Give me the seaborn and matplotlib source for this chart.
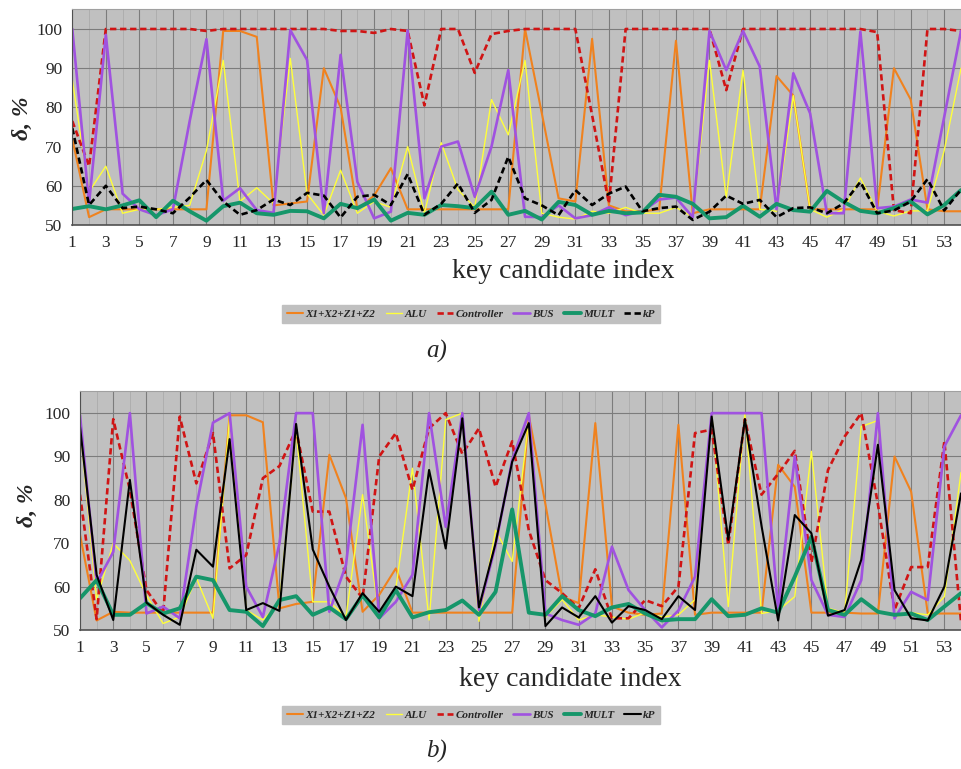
import numpy as np
import pandas as pd
import matplotlib
matplotlib.use("Agg")
import matplotlib.pyplot as plt
import seaborn as sns
from matplotlib.lines import Line2D

# ---------------- data ----------------
idx = list(range(1, 55))
series_names = ["X1+X2+Z1+Z2", "ALU", "Controller", "BUS", "MULT", "kP"]

# panel a
a_x = [72, 52, 54, 54, 54, 54, 54, 54, 54, 99.5, 99.5, 98, 55, 55.5, 56, 90, 80, 54, 57.5, 64.5,
       54, 54, 54, 54, 54, 54, 54, 100, 78.5, 56.8, 56, 97.5, 55, 53.5, 53.5, 54, 97, 53, 54, 54,
       54, 54, 88, 83, 54, 54, 54, 54, 54, 90, 82, 54, 53.5, 53.5]
a_alu = [87, 58.5, 65, 53, 54, 54, 54.5, 55, 69, 92, 56, 59.5, 55.5, 92.5, 58, 52.5, 64, 53, 56, 54.5,
         70, 53, 71, 59, 54.5, 82, 73, 92, 53, 52, 51.5, 53.5, 53, 54.5, 53, 53, 54.5, 52, 92, 57,
         89.5, 54, 53.5, 83, 54, 52, 54, 62, 53.5, 52.3, 53.6, 53.6, 69, 90]
a_ctrl = [76.5, 65, 100, 100, 100, 100, 100, 100, 99.5, 100, 100, 100, 100, 100, 100, 100, 99.5, 99.5, 99, 100,
          99.5, 80.5, 100, 100, 88.8, 98.7, 99.5, 100, 100, 100, 100, 78, 55.5, 100, 100, 100, 100, 100, 100, 84.4,
          100, 100, 100, 100, 100, 100, 100, 100, 99.2, 53.8, 53, 100, 100, 99.5]
a_bus = [100, 55.5, 98.5, 58, 54, 52.5, 54, 76.5, 97.4, 56.2, 59.4, 53.8, 53.1, 99.7, 92.1, 53, 93.4, 61, 51.7, 53.4,
         99.6, 56.8, 70, 71.3, 57.2, 70, 89.5, 52.1, 52, 55, 51.7, 52.5, 54.5, 52.5, 53.5, 56.5, 57, 52, 99.5, 89.5,
         99.5, 90.4, 54, 88.7, 78.5, 53, 53, 99.3, 54.3, 54.7, 56.5, 55.7, 77.6, 99.5]
a_mult = [54.1, 54.8, 54, 55, 56.3, 52, 56.2, 53.5, 51.1, 54.8, 55.7, 53, 52.6, 53.6, 53.5, 51.7, 55.4, 54.3, 56.5, 51.1,
          53.1, 52.6, 55.1, 54.8, 54.3, 58.5, 52.6, 53.6, 51.4, 55.9, 55.1, 52.6, 53.6, 53, 53.2, 57.7, 57.2, 55.4, 51.7, 52,
          54.9, 52.1, 55.4, 53.8, 53.4, 58.7, 55.9, 53.6, 53, 54.3, 56, 52.7, 55.1, 58.9]
a_kp = [74.7, 55.1, 60, 54.3, 54.7, 54, 53, 57, 61.5, 56, 52.6, 53.8, 56.5, 55.1, 58.2, 57.5, 51.9, 57.2, 57.7, 55.1,
        63, 52.6, 55.4, 60.6, 53.1, 56.4, 67.4, 56.8, 55, 52.5, 58.9, 55.1, 58, 59.8, 53.5, 54.3, 54.7, 51.3, 53.4, 57.5,
        55.4, 56.4, 52, 54.3, 54.5, 53, 55.5, 61, 53, 53.7, 56, 61.7, 53.7, 59]

# panel b
b_x = [72, 52.2, 54.2, 54, 54, 54, 54, 54, 54, 99.5, 99.5, 97.9, 55, 56, 56.5, 90.4, 80.4, 54.2, 58.1, 64.2,
       54, 54, 54, 54, 54, 54, 54, 99.5, 79, 57.7, 56.2, 97.7, 55.4, 54, 53.5, 53.8, 97.3, 53.5, 54, 54,
       54, 54, 88.1, 83, 54, 54, 54, 53.8, 53.8, 90, 81.9, 53.8, 53.8, 53.8]
b_alu = [97, 57, 70, 66, 58, 51.5, 53, 62, 52.7, 99, 54.6, 52.3, 56.3, 96, 56.5, 56.5, 53, 81.2, 53, 59.6,
         87.3, 52.3, 98.5, 100, 52, 73, 65.8, 98.5, 53, 57, 52.3, 53.5, 53, 52.5, 54, 53, 53.5, 57, 100, 55.4,
         100, 53.8, 54.5, 57.7, 91.2, 55, 54, 96.9, 98.3, 53, 54, 53.5, 57.7, 86.3]
b_ctrl = [81.2, 52.5, 98.6, 82.3, 59.2, 53.8, 99.2, 83.8, 95.4, 64.2, 67.3, 85, 87.8, 96.2, 77.3, 77.3, 62.3, 57.3, 90, 95.4,
          82.3, 96.5, 100, 90.6, 96.5, 83, 93.5, 73, 61.5, 58.5, 55, 64, 52.7, 52.7, 56.9, 55.5, 60, 95.4, 96.2, 69.6,
          98.6, 81.2, 86, 91.3, 65.5, 86.9, 94.6, 100, 79, 54.6, 64.5, 64.5, 93.5, 52]
b_bus = [99.5, 60.8, 68, 100, 53.8, 55.4, 52.7, 78.5, 97.8, 100, 60, 53, 70, 100, 100, 54.2, 65, 97.3, 52.7, 56.5,
         62.7, 100, 73.8, 100, 54.6, 69.5, 89.2, 100, 53.8, 52.3, 51.2, 53.8, 69.2, 59.2, 54.6, 50.6, 54.5, 62.3, 100, 100,
         100, 100, 54.6, 90, 61.5, 53.5, 53, 61.5, 100, 52.7, 58.8, 56.9, 92.3, 99.5]
b_mult = [57.3, 61.5, 53.5, 53.5, 56.2, 53.8, 55, 62.3, 61.5, 54.6, 54.2, 50.9, 56.9, 57.8, 53.5, 55.2, 52.5, 58, 52.9, 59.2,
          52.9, 54.1, 54.6, 56.8, 53.5, 58.8, 77.8, 54, 53.5, 57.8, 54.6, 53.2, 55.2, 56, 53.8, 52.2, 52.5, 52.5, 57.1, 53.2,
          53.5, 55, 54, 62.3, 71.5, 54.6, 53.5, 57.1, 54.2, 53.5, 53.8, 52.3, 55.4, 58.5]
b_kp = [96.9, 62.7, 52.3, 84.6, 56.3, 53.5, 51.2, 68.5, 64.6, 94, 54.6, 56.2, 54.4, 97.5, 68.6, 60, 52.3, 58.5, 54.2, 60,
        57.8, 86.9, 68.8, 98.8, 55.2, 70, 88.8, 97.7, 50.9, 55.2, 52.9, 57.8, 51.7, 55.5, 54.6, 52.5, 57.8, 54.6, 99.2, 70.8,
        98.6, 74, 52.2, 76.5, 72.3, 53.3, 54.6, 66.2, 92.7, 59.2, 52.7, 52.2, 60, 81.5]

# ---------------- style ----------------
sns.set_style("white")
plt.rcParams['font.family'] = ['Liberation Serif', 'DejaVu Serif']

colors = ["#F0821E", "#FFFF3A", "#D01414", "#A052E0", "#16966A", "#000000"]
widths = [1.5, 1.0, 1.9, 1.9, 2.8, 1.9]
DASH = (0, (2.4, 1.4))

def styles(kp_dashed):
    return ["-", "-", DASH, "-", "-", DASH if kp_dashed else "-"]

fig = plt.figure(figsize=(9.61, 7.69), dpi=100)

def make_axes(rect, data, xr, kp_dashed, kp_lw):
    ax = fig.add_axes(rect)
    ls = styles(kp_dashed)
    for i, (name, vals) in enumerate(zip(series_names, data)):
        df = pd.DataFrame({"idx": idx, "val": vals})
        lw = widths[i] if i != 5 else kp_lw
        sns.lineplot(data=df, x="idx", y="val", ax=ax, color=colors[i],
                     linewidth=lw, linestyle=ls[i], legend=False)
    ax.set_facecolor("#C0C0C0")
    ax.set_xlim(1, xr)
    ax.set_ylim(50, 105.1)
    ax.set_xticks(range(1, 54, 2))
    ax.set_xticks(range(2, 55, 2), minor=True)
    ax.set_yticks(range(50, 101, 10))
    ax.grid(which="major", color="#7C7C7C", linewidth=0.8)
    ax.grid(which="minor", axis="x", color="#ABABAB", linewidth=0.6)
    ax.set_axisbelow(True)
    ax.spines["right"].set_visible(False)
    ax.spines["top"].set_color("#A0A0A0")
    ax.spines["left"].set_color("#505050")
    ax.spines["bottom"].set_color("#505050")
    ax.spines["bottom"].set_linewidth(1.2)
    ax.tick_params(axis="both", which="major", labelsize=12.5, length=4, color="#505050",
                   direction="out", pad=3)
    ax.tick_params(axis="x", which="minor", length=3, color="#505050", direction="out")
    ax.set_xlabel("")
    ax.set_ylabel("")
    return ax

W, H = 961.0, 769.0
ax1 = make_axes([72.3 / W, 1 - 225 / H, (W - 72.3) / W, 216 / H],
                [a_x, a_alu, a_ctrl, a_bus, a_mult, a_kp], 53.75, True, 1.9)
ax2 = make_axes([80 / W, 1 - 630 / H, (W - 80) / W, 239 / H],
                [b_x, b_alu, b_ctrl, b_bus, b_mult, b_kp], 53.86, False, 1.5)

# labels
fig.text(563 / W, 1 - 271 / H, "key candidate index", ha="center", va="center", fontsize=20)
fig.text(570 / W, 1 - 680 / H, "key candidate index", ha="center", va="center", fontsize=20)
fig.text(22 / W, 1 - 118 / H, "δ, %", ha="center", va="center", rotation=90,
         fontsize=17, fontweight="bold", style="italic")
fig.text(27 / W, 1 - 505 / H, "δ, %", ha="center", va="center", rotation=90,
         fontsize=17, fontweight="bold", style="italic")
fig.text(437 / W, 1 - 351 / H, "a)", ha="center", va="center", fontsize=18, style="italic")
fig.text(437 / W, 1 - 751 / H, "b)", ha="center", va="center", fontsize=18, style="italic")

def legend(y, kp_dashed):
    ls = styles(kp_dashed)
    handles = [Line2D([], [], color=colors[i], linewidth=(widths[i] if i != 5 else (1.9 if kp_dashed else 1.5)),
                      linestyle=ls[i]) for i in range(6)]
    leg = fig.legend(handles, series_names, loc="center", bbox_to_anchor=(471 / W, 1 - y / H),
                     ncol=6, frameon=True, fancybox=False, framealpha=1, facecolor="#C0C0C0",
                     edgecolor="#C0C0C0", handlelength=1.5, handletextpad=0.2, columnspacing=0.9,
                     borderpad=0.4, prop={"family": "Liberation Serif", "weight": "bold",
                                         "style": "italic", "size": 8})
    return leg

legend(314, True)
legend(715, False)

fig.savefig("out.png", dpi=100)
